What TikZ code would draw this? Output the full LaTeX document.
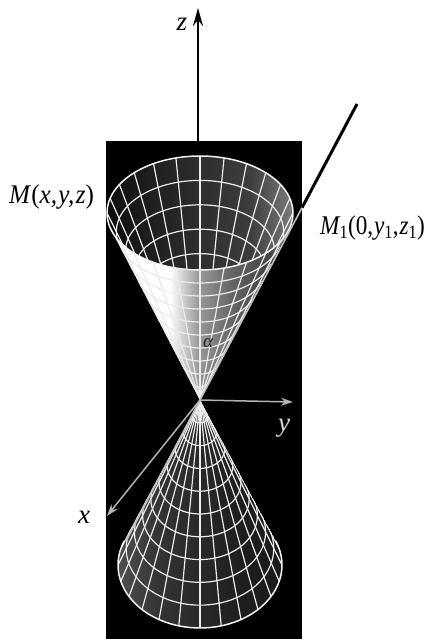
\documentclass[tikz,border=0pt]{standalone}
\usepackage{fontspec}
\setmainfont{Liberation Serif}
\usetikzlibrary{arrows.meta}
\begin{document}
\begin{tikzpicture}[x=1pt,y=-1pt,
  mesh/.style={white!92!black, line width=1.2pt},
  rim/.style={white!95!black, line width=1.5pt},
  axisgray/.style={black!30, line width=1.5pt, -{Stealth[length=12pt,width=8pt]}},
  lbl/.style={font=\fontsize{27}{29}\selectfont\itshape, inner sep=0pt},
]
\useasboundingbox (0,0) rectangle (430,639);
\fill[white] (0,0) rectangle (430,639);
% dark panel behind the surface
\fill[black] (106,141) rectangle (302,639);

% common apex and axis end points
\coordinate (O) at (200,400);
\coordinate (ztail) at (198,141);
\coordinate (ztip) at (198,8);
\coordinate (xtip) at (107,516);
\coordinate (ytip) at (293,402);
\coordinate (G) at (357,104);
\coordinate (Gin) at (302,207.7);
\coordinate (Glow) at (126,541);

% ---------- upper nappe: interior seen through the opening ----------
\begin{scope}
  \clip (200,213) ellipse [x radius=93, y radius=57];
  \shade[left color=black!95, right color=black!88] (106,150) rectangle (150,280);
  \shade[left color=black!88, right color=black!76] (150,150) rectangle (250,280);
  \shade[left color=black!76, right color=black!50] (250,150) rectangle (295,280);
  \foreach \th in {0,15,...,345}
    \draw[mesh] (O) -- ({200+93*cos(\th)},{213+57*sin(\th)});
  \foreach \t in {0.1,0.2,...,0.95}
    \draw[mesh] (200,{400-187*\t}) ellipse [x radius={93*\t}, y radius={57*\t}];
\end{scope}

% ---------- upper nappe: outer front surface ----------
\begin{scope}
  \clip (O) -- plot[domain=162.25:17.75, samples=50] ({200+93*cos(\x)},{213+57*sin(\x)}) -- cycle;
  \fill[white] (106,200) rectangle (170,405);
  \shade[left color=white, right color=black!40] (170,200) rectangle (198,405);
  \shade[left color=black!40, right color=black!62] (198,200) rectangle (235,405);
  \shade[left color=black!62, right color=black!74] (235,200) rectangle (270,405);
  \shade[left color=black!74, right color=black!50] (270,200) rectangle (282,405);
  \shade[left color=black!50, right color=black!10] (282,200) rectangle (292,405);
  \foreach \th in {30,45,...,150}
    \draw[mesh] (O) -- ({200+93*cos(\th)},{213+57*sin(\th)});
  \foreach \t in {0.1,0.2,...,0.95}
    \draw[mesh] plot[domain=17.75:162.25, samples=40]
      ({200+93*\t*cos(\x)},{400+\t*(-187+57*sin(\x))});
\end{scope}
\draw[rim] (200,213) ellipse [x radius=93, y radius=57];

% ---------- lower nappe: outer surface ----------
\begin{scope}
  \clip (O) -- plot[domain=202.45:-22.45, samples=50] ({200+82*cos(\x)},{565+63*sin(\x)}) -- cycle;
  \shade[left color=black!68, right color=black!80] (115,400) rectangle (160,630);
  \shade[left color=black!80, right color=black!88] (160,400) rectangle (240,630);
  \shade[left color=black!88, right color=black!90] (240,400) rectangle (285,630);
  \foreach \th in {-15,0,...,195}
    \draw[mesh] (O) -- ({200+82*cos(\th)},{565+63*sin(\th)});
  \foreach \t in {0.1,0.2,...,0.95}
    \draw[mesh] plot[domain=-22.45:202.45, samples=40]
      ({200+82*\t*cos(\x)},{400+\t*(165+63*sin(\x))});
\end{scope}
\draw[rim] plot[domain=-22.45:202.45, samples=50] ({200+82*cos(\x)},{565+63*sin(\x)});

% ---------- axes and the generating line ----------
\draw[black, line width=2.4pt, -{Stealth[length=18pt,width=10pt]}] (ztail) -- (ztip);
\draw[black, line width=3pt] (G) -- (Gin);
\draw[black!25, line width=1.6pt] (Gin) -- (O) -- (Glow);
\draw[axisgray] (O) -- (xtip);
\draw[axisgray] (O) -- (ytip);

% ---------- labels ----------
\node[lbl] (zl) at (182,24) {z};
\node[lbl] (xl) at (84,517) {x};
\node[lbl, text=black!15] (yl) at (284,428) {y};
\node[font=\fontsize{19}{19}\selectfont\itshape, text=black!85, inner sep=0pt] (al) at (208,343) {α};
\node[lbl, anchor=west] (Ml) at (9,197.5)
  {\scalebox{0.93}[1]{M\textup{(}x,\kern1.5pt y,\kern1.5pt z\textup{)}}};
\node[lbl, anchor=west] (M1l) at (320,228)
  {\scalebox{0.86}[1]{M\textsubscript{\upshape 1}\textup{(0,}\kern1pt y\textsubscript{\upshape 1}\textup{,}\kern1pt z\textsubscript{\upshape 1}\textup{)}}};
\end{tikzpicture}
\end{document}
